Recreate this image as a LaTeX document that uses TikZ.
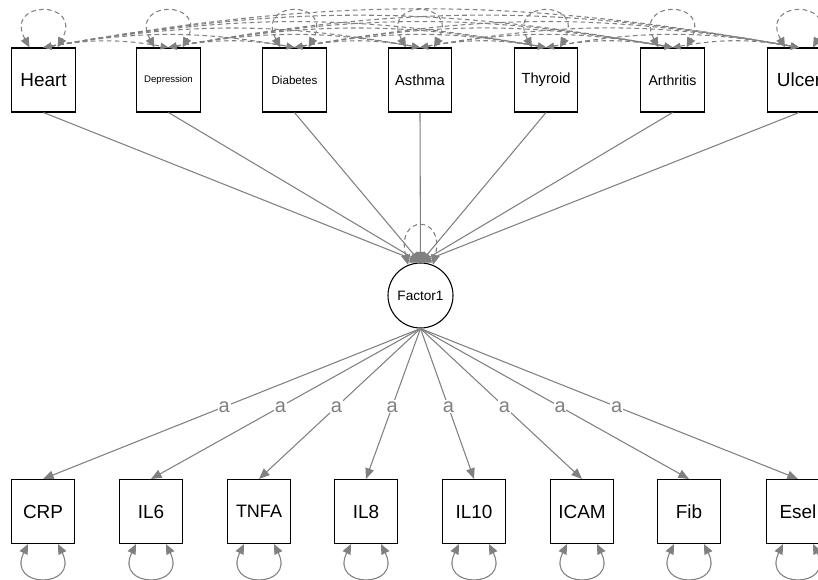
\documentclass[tikz,border=0pt]{standalone}
\usepackage{fontspec}
\setmainfont{Liberation Sans}
\usetikzlibrary{arrows.meta}
\definecolor{edgegray}{HTML}{808080}
\tikzset{
  varbox/.style={draw=black, line width=0.8pt, fill=white, minimum width=47.5pt,
    minimum height=48pt, inner sep=0pt, text=black},
  latent/.style={draw=black, circle, line width=0.8pt, fill=white,
    minimum size=48.75pt, inner sep=0pt, font=\fontsize{10.2}{12}\selectfont},
  loadarrow/.style={draw=edgegray, line width=0.8pt, -{Triangle[length=8pt,width=6.5pt]}},
  covarc/.style={draw=edgegray, line width=0.8pt, dash pattern=on 3.5pt off 2.5pt,
    {Triangle[length=6pt,width=5pt]}-{Triangle[length=6pt,width=5pt]}},
  resloop/.style={draw=edgegray, line width=0.8pt,
    {Triangle[length=7.5pt,width=6.5pt]}-{Triangle[length=7.5pt,width=6.5pt]}},
  dresloop/.style={resloop, dash pattern=on 3.5pt off 2.5pt},
  lablet/.style={text=edgegray, fill=white, inner sep=0.6pt,
    font=\fontsize{15}{15}\selectfont},
  bigtxt/.style={font=\fontsize{14.2}{16}\selectfont}
}
\begin{document}
\begin{tikzpicture}[x=0.75pt,y=-0.75pt]
\useasboundingbox (0,0) rectangle (818,579);
\clip (0,0) rectangle (818,579);

% indicators of the factor (top row)
\node[varbox, bigtxt] (heart) at (43.5,80) {Heart};
\node[varbox, font=\fontsize{7.2}{8}\selectfont] (depr) at (168.5,80) {Depression};
\node[varbox, font=\fontsize{8.7}{10}\selectfont] (diab) at (294.5,80) {Diabetes};
\node[varbox, font=\fontsize{11}{13}\selectfont] (asth) at (420,80) {Asthma};
\node[varbox, font=\fontsize{11}{13}\selectfont] (thyr) at (546,80) {Thyroid};
\node[varbox, font=\fontsize{10.6}{12}\selectfont] (arth) at (672.5,80) {Arthritis};
\node[varbox, bigtxt] (ulcer) at (799,80) {Ulcer};

% latent factor
\node[latent] (fac) at (420.5,295.5) {Factor1};

% outcomes (bottom row)
\node[varbox, bigtxt] (crp) at (43,511.5) {CRP};
\node[varbox, bigtxt] (il6) at (151,511.5) {IL6};
\node[varbox, font=\fontsize{13.5}{16}\selectfont] (tnfa) at (259,511.5) {TNFA};
\node[varbox, bigtxt] (il8) at (366,511.5) {IL8};
\node[varbox, bigtxt] (il10) at (474,511.5) {IL10};
\node[varbox, bigtxt] (icam) at (582,511.5) {ICAM};
\node[varbox, bigtxt] (fib) at (689,511.5) {Fib};
\node[varbox, bigtxt] (esel) at (798,511.5) {Esel};

% paths into the factor
\foreach \n in {heart,depr,diab,asth,thyr,arth,ulcer}
  \draw[loadarrow] (\n.south) -- (fac.north);

% equal loadings on the outcomes
\foreach \n in {crp,il6,tnfa,il8,il10,icam,fib,esel}
  \draw[loadarrow] (fac.south) -- node[lablet, pos=0.52] {a} (\n.north);

% covariances among the top-row variables
\foreach \a/\rest in {heart/{depr,diab,asth,thyr,arth,ulcer},
                      depr/{diab,asth,thyr,arth,ulcer},
                      diab/{asth,thyr,arth,ulcer},
                      asth/{thyr,arth,ulcer},
                      thyr/{arth,ulcer},
                      arth/{ulcer}}
  \foreach \b in \rest
    \draw[covarc] (\a.north) to[bend left=10] (\b.north);

% variances of the top-row variables
\foreach \n in {heart,depr,diab,asth,thyr,arth,ulcer}
  \draw[dresloop] ([xshift=-10.5pt]\n.north) .. controls +(-26,-48) and +(26,-48) .. ([xshift=10.5pt]\n.north);

% variance of the factor
\draw[dresloop] (fac.112) .. controls +(-13,-51) and +(13,-51) .. (fac.68);

% residual variances of the outcomes
\foreach \n in {crp,il6,tnfa,il8,il10,icam,fib,esel}
  \draw[resloop] ([xshift=-11.25pt]\n.south) .. controls +(-22,45) and +(22,45) .. ([xshift=11.25pt]\n.south);
\end{tikzpicture}
\end{document}
